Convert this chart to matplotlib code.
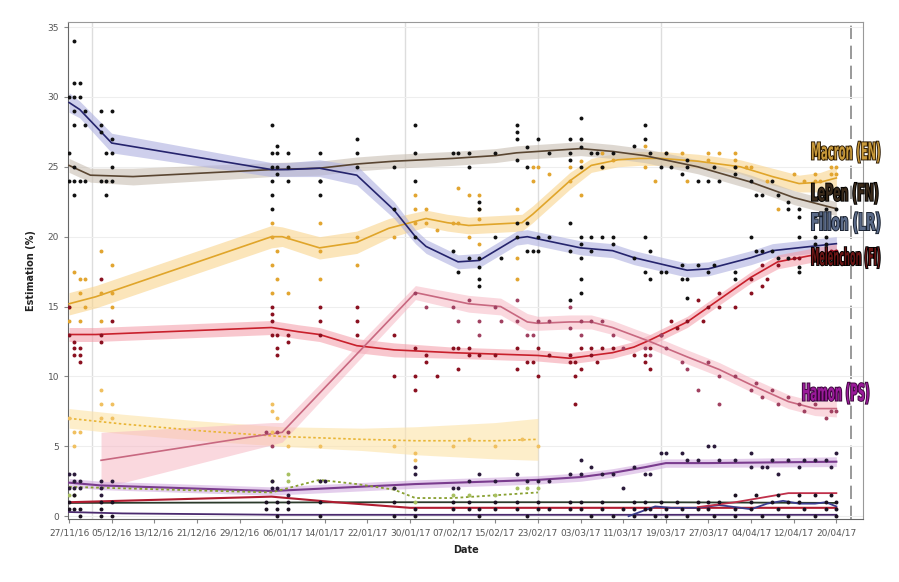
import numpy as np
import matplotlib
matplotlib.use("Agg")
import matplotlib.pyplot as plt
import matplotlib.patheffects as pe
from matplotlib.textpath import TextPath
from matplotlib.patches import PathPatch
from matplotlib.font_manager import FontProperties
from matplotlib.transforms import Affine2D, IdentityTransform

# x values are days since 27/11/16
tick_days = [0, 8, 16, 24, 32, 40, 48, 56, 64, 72, 80, 88, 96, 104, 112, 120, 128, 136, 144]
tick_labels = ["27/11/16", "05/12/16", "13/12/16", "21/12/16", "29/12/16", "06/01/17",
               "14/01/17", "22/01/17", "30/01/17", "07/02/17", "15/02/17", "23/02/17",
               "03/03/17", "11/03/17", "19/03/17", "27/03/17", "04/04/17", "12/04/17",
               "20/04/17"]
event_days = [4.3, 63, 88, 111]
election_day = 146.7

# trend lines (knots) and band half widths
macron_d = [0, 5, 38, 40, 47, 54, 60, 67, 71, 75, 85, 87, 94, 98, 103, 107, 111, 118, 126, 132, 137, 141, 144]
macron_v = [15.2, 15.7, 20.0, 20.0, 19.2, 19.6, 20.6, 21.3, 21.0, 20.8, 21.0, 21.6, 24.0, 25.1, 25.5,
            25.6, 25.6, 25.4, 25.0, 24.3, 23.8, 23.9, 24.2]
macron_w = [0.8, 0.8, 0.8, 0.7, 0.8, 0.8, 0.7, 0.6, 0.6, 0.6, 0.6, 0.6, 0.6, 0.5, 0.5,
            0.5, 0.5, 0.5, 0.5, 0.6, 0.6, 0.7, 0.8]

lepen_d = [0, 4, 12, 38, 47, 54, 61, 72, 80, 84, 96, 102, 108, 118, 128, 136, 144]
lepen_v = [25.1, 24.4, 24.3, 24.8, 24.9, 25.2, 25.4, 25.6, 25.8, 26.0, 26.3, 26.1, 25.8, 25.0, 23.9, 22.8, 22.0]
lepen_w = [0.5, 0.5, 0.6, 0.5, 0.5, 0.5, 0.5, 0.5, 0.5, 0.5, 0.5, 0.5, 0.5, 0.5, 0.5, 0.5, 0.5]

fillon_d = [0, 2, 8, 38, 41, 47, 54, 61, 65, 67, 73, 77, 84, 86, 91, 96, 102, 106, 116, 120, 128, 132, 144]
fillon_v = [29.6, 29.1, 26.7, 24.8, 24.8, 24.9, 24.4, 21.9, 20.0, 19.3, 18.2, 18.3, 19.9, 20.0, 19.6,
            19.2, 19.0, 18.5, 17.6, 17.7, 18.5, 19.0, 19.5]
fillon_w = [0.7, 0.6, 0.7, 0.5, 0.5, 0.6, 0.7, 0.6, 0.5, 0.5, 0.5, 0.5, 0.5, 0.5, 0.5,
            0.5, 0.5, 0.5, 0.5, 0.5, 0.5, 0.5, 0.5]

melen_d = [0, 5, 38, 43, 47, 54, 61, 72, 88, 94, 102, 106, 109, 116, 122, 128, 133, 144]
melen_v = [13.0, 13.0, 13.5, 13.2, 13.0, 12.2, 11.9, 11.7, 11.5, 11.3, 11.7, 12.1, 12.6, 13.9, 15.5, 17.1, 18.2, 19.0]
melen_w = [0.5, 0.5, 0.5, 0.5, 0.5, 0.5, 0.5, 0.4, 0.4, 0.4, 0.4, 0.4, 0.4, 0.4, 0.4, 0.4, 0.5, 0.5]

hamon_d = [6, 38, 40, 65, 75, 81, 86, 88, 94, 98, 102, 109, 116, 122, 128, 135, 140, 144]
hamon_v = [4.0, 5.9, 6.0, 16.0, 15.2, 15.0, 13.9, 13.8, 13.9, 13.9, 13.5, 12.5, 11.4, 10.5, 9.4, 8.2, 7.7, 7.7]
hamon_w = [2.0, 0.8, 0.7, 0.5, 0.6, 0.6, 0.6, 0.5, 0.5, 0.5, 0.5, 0.5, 0.5, 0.5, 0.5, 0.5, 0.5, 0.6]

nda_d = [0, 6, 38, 65, 88, 96, 102, 108, 112, 120, 144]
nda_v = [2.4, 2.2, 1.8, 2.3, 2.6, 2.8, 3.1, 3.5, 3.8, 3.8, 3.9]
nda_w = [0.3, 0.3, 0.3, 0.3, 0.3, 0.3, 0.3, 0.3, 0.3, 0.3, 0.35]

bayrou_d = [0, 10, 25, 40, 55, 65, 80, 88]
bayrou_v = [7.0, 6.6, 6.1, 5.7, 5.5, 5.4, 5.4, 5.5]
bayrou_w = [0.7, 0.7, 0.7, 0.7, 0.8, 1.0, 1.3, 1.5]

jadot_d = [0, 38, 41, 47, 54, 61, 65, 72, 80, 88]
jadot_v = [2.1, 1.7, 2.0, 2.6, 2.3, 1.9, 1.3, 1.3, 1.5, 1.7]

arthaud_d = [0, 38, 50, 64, 100, 144]
arthaud_v = [1.0, 1.4, 1.0, 0.6, 0.6, 0.6]
poutou_d = [0, 60, 110, 144]
poutou_v = [0.95, 1.0, 1.0, 0.95]
cheminade_d = [0, 10, 40, 144]
cheminade_v = [0.3, 0.2, 0.1, 0.1]
asselineau_d = [105, 110, 113, 118, 122, 128, 131, 134, 137, 140, 142, 144]
asselineau_v = [0.0, 0.7, 0.6, 0.6, 0.8, 0.5, 0.9, 1.1, 0.9, 0.9, 1.0, 0.7]
lassalle_d = [118, 125, 135, 144]
lassalle_v = [0.65, 1.0, 1.65, 1.65]

# poll dots
fillon_pts = [(0, 30), (1, 34), (1, 31), (2, 31), (1, 30), (2, 30), (1, 29), (3, 29), (1, 28), (3, 28),
              (6, 29), (8, 29), (6, 28), (6, 27.5), (8, 27), (7, 26), (8, 26), (38, 25), (38, 24),
              (39, 25), (39, 24.5), (41, 25), (47, 24), (54, 25), (61, 22), (65, 24), (65, 20), (72, 19),
              (73, 17.5), (75, 18.5), (77, 22.5), (77, 22), (77, 18.5), (77, 17.8), (77, 17), (77, 16.5),
              (80, 20), (81, 18.5), (84, 20), (84, 21), (86, 19), (86, 21), (87, 19), (88, 20), (88, 19),
              (90, 20), (94, 21), (94, 19), (94, 15.5), (96, 20), (96, 19.5), (96, 18.5), (96, 17),
              (96, 16), (98, 20), (98, 19), (100, 20), (102, 20), (102, 19.5), (106, 18.5), (108, 20),
              (108, 17.5), (109, 19), (109, 17), (111, 17.5), (112, 17.5), (115, 18), (115, 17),
              (116, 17), (116, 15.6), (118, 18), (120, 17.5), (121, 18), (125, 17.5), (125, 17),
              (128, 20), (129, 19), (130, 19), (132, 19), (133, 18.5), (135, 18.5), (137, 20),
              (137, 17.8), (137, 17.5), (140, 20), (140, 19.5), (142, 20), (142, 19.5)]
lepen_pts = [(0, 26), (0, 24), (1, 25), (1, 24), (2, 24), (3, 24), (1, 23), (6, 24), (7, 24), (8, 24),
             (8, 25), (7, 23), (38, 28), (38, 26), (38, 23), (38, 22), (39, 26.5), (39, 26), (41, 26),
             (41, 24), (47, 26), (47, 24), (47, 23), (54, 27), (54, 26), (61, 25), (65, 28), (65, 26),
             (72, 26), (73, 26), (75, 26), (75, 25), (80, 26), (84, 28), (84, 27.5), (84, 27),
             (84, 25.5), (86, 25), (88, 27), (86, 26.4), (90, 26), (94, 27), (94, 26), (94, 25.5),
             (96, 28.5), (96, 27), (96, 26.4), (96, 25), (98, 26), (99, 26), (100, 25), (102, 26),
             (106, 26.5), (108, 27), (108, 28), (109, 26), (111, 25), (112, 26), (113, 25), (115, 24.5),
             (116, 25), (116, 25.5), (118, 24), (120, 24), (121, 25), (122, 24), (125, 25), (125, 24.5),
             (128, 24), (129, 23), (130, 23), (132, 24), (133, 23), (135, 22.5), (135, 22), (137, 22),
             (137, 21.4), (140, 21.5), (142, 22), (144, 22)]
macron_pts = [(1, 17.5), (2, 17), (3, 17), (2, 16), (0, 15), (3, 15), (0, 14), (2, 14), (6, 19), (6, 16),
              (8, 18), (8, 15), (6, 14), (8, 16), (38, 21), (38, 20), (38, 18), (38, 16), (39, 19),
              (39, 17), (41, 20), (41, 16), (47, 21), (47, 19), (47, 17), (54, 20), (54, 18), (61, 20),
              (65, 23), (65, 22), (65, 21), (67, 22), (67, 21), (69, 20.5), (72, 21), (73, 23.5),
              (73, 21), (75, 23), (75, 20), (77, 23), (77, 22), (77, 21.3), (77, 19.5), (84, 22),
              (84, 18.5), (84, 17), (87, 24), (87, 25), (88, 25), (90, 24.5), (94, 25), (96, 25.4),
              (96, 23), (94, 24), (100, 26), (100, 25), (102, 25.5), (108, 26.5), (108, 25), (110, 24),
              (112, 26), (115, 26), (116, 24), (120, 26), (122, 26), (125, 26), (120, 25.5), (125, 25.5),
              (125, 25), (127, 25), (128, 25), (133, 22), (136, 24.5), (140, 24.5), (143, 24.5),
              (144, 24.5), (131, 24), (138, 24), (140, 24), (141, 24), (143, 25), (144, 25)]
melen_pts = [(0, 15), (1, 12.5), (1, 12), (2, 12), (1, 11.5), (2, 11.5), (2, 11), (0, 13), (6, 12.5),
             (6, 13), (6, 17), (8, 14), (38, 15), (38, 14.5), (38, 14), (38, 13), (39, 13), (39, 12),
             (39, 11.5), (41, 13), (41, 12.5), (47, 15), (47, 14), (47, 13), (54, 15), (54, 14),
             (54, 13), (61, 13), (61, 10), (65, 12), (65, 10), (65, 9), (67, 11.5), (67, 11), (69, 10),
             (72, 12), (73, 12), (73, 10.5), (75, 12), (75, 11.5), (77, 11.5), (80, 11.5), (84, 12),
             (84, 10.5), (86, 11), (87, 11), (88, 12), (88, 10), (90, 11.5), (94, 11.5), (94, 11),
             (95, 11), (96, 10.5), (95, 10), (95, 8), (96, 12), (98, 12), (98, 11.5), (99, 11),
             (100, 12), (102, 12), (106, 11.5), (108, 11.5), (108, 11), (109, 10.5), (109, 12),
             (111, 13), (113, 14), (114, 13.5), (116, 14), (118, 15.5), (119, 14), (120, 15), (122, 16),
             (122, 15), (125, 15), (128, 16), (128, 17), (130, 16.5), (130, 18), (131, 17), (133, 18),
             (136, 18.5), (137, 18.5), (142, 18.5), (143, 19), (144, 19)]
hamon_pts = [(37, 6), (38, 5), (39, 6), (41, 6), (65, 16), (67, 15), (72, 15), (73, 14), (75, 15.5),
             (77, 13), (77, 14), (80, 15), (81, 14), (84, 14), (84, 15.5), (86, 13), (87, 13), (88, 14),
             (90, 14), (94, 15), (94, 13.5), (96, 14), (96, 13), (98, 14), (100, 14), (102, 13),
             (104, 12), (108, 12), (109, 11.5), (111, 13), (112, 12), (115, 11), (116, 10.5), (118, 9),
             (120, 11), (122, 10), (122, 8), (125, 10), (128, 9), (129, 9.5), (130, 8.5), (132, 9),
             (133, 8), (135, 8.5), (137, 8), (138, 7.5), (140, 8), (142, 7), (143, 7.5), (144, 7.5)]
nda_pts = [(0, 3), (1, 3), (0, 2), (1, 2.5), (2, 2.5), (1, 2), (2, 2), (6, 2.5), (8, 2.5), (6, 2),
           (6, 1.5), (38, 2.5), (38, 2), (39, 2), (41, 1.5), (47, 2.5), (48, 2.5), (61, 2), (65, 3.5),
           (65, 3), (72, 2), (73, 2), (75, 2.5), (77, 3), (80, 2.5), (84, 3), (86, 2.5), (88, 2.5),
           (90, 2.5), (94, 3), (96, 4), (96, 3), (98, 3.5), (100, 3), (102, 3), (104, 2), (106, 3.5),
           (108, 3), (109, 3), (111, 4.5), (112, 4.5), (115, 4.5), (116, 4), (118, 4), (120, 5),
           (121, 5), (122, 4), (125, 4), (128, 4.5), (128, 3.5), (130, 3.5), (131, 3.5), (132, 4),
           (133, 3), (135, 4), (137, 3.5), (138, 4), (140, 4), (142, 4), (143, 3.5), (144, 4.5)]
small_pts = [(0, 1), (0, 0.5), (1, 0.5), (1, 1.5), (2, 0.5), (2, 0), (6, 1), (6, 0.5), (6, 0), (8, 0),
             (8, 1), (37, 1), (37, 0.5), (39, 1), (39, 0.5), (39, 0), (41, 1), (41, 0.5), (47, 1),
             (47, 0), (61, 1), (61, 0), (65, 0.5), (65, 0), (72, 1), (72, 0.5), (75, 0.5), (75, 1),
             (77, 0.5), (77, 0), (80, 1), (80, 0.5), (84, 0.5), (84, 1), (86, 0), (88, 1), (88, 0.5),
             (90, 0.5), (94, 1), (94, 0.5), (96, 1), (96, 0.5), (98, 0), (100, 1), (100, 0.5), (102, 0),
             (104, 0.5), (106, 1), (106, 0.5), (106, 0), (108, 1), (108, 0.5), (109, 0.5), (110, 0),
             (111, 1), (112, 0.5), (112, 0), (114, 1), (115, 0.5), (116, 0), (118, 1), (118, 0.5),
             (120, 1), (120, 0.5), (121, 0), (122, 1), (125, 1.5), (125, 0.5), (125, 0), (128, 1),
             (128, 0.5), (129, 1.5), (130, 0), (132, 1), (133, 1.5), (133, 0.5), (135, 1), (135, 0),
             (137, 1.5), (137, 1), (138, 0.5), (140, 1.5), (140, 0), (142, 1), (142, 0.5), (143, 1.5),
             (144, 1), (144, 0.5), (144, 0)]
bayrou_pts = [(0, 7), (1, 6), (2, 6), (1, 5), (6, 9), (6, 8), (8, 8), (6, 7), (8, 7), (38, 8),
              (38, 7.5), (38, 6), (39, 7), (41, 6), (41, 5), (47, 5), (61, 5), (65, 4.5), (65, 4),
              (72, 5), (75, 5.5), (80, 5), (85, 5.5), (88, 5)]
jadot_pts = [(0, 1.5), (1, 1.5), (38, 2.5), (41, 3), (41, 2.5), (47, 2.5), (61, 2), (65, 1), (72, 1.5),
             (75, 1.5), (80, 1.5), (84, 2), (86, 2), (88, 2)]

labels = ["Macron (EN)", "LePen (FN)", "Fillon (LR)", "Melenchon (FI)", "Hamon (PS)"]
label_x = [139.4, 139.4, 139.4, 139.4, 137.7]
label_y = [26.05, 23.1, 21.0, 18.5, 8.8]

fig = plt.figure(figsize=(8.99, 5.82), dpi=100)
ax = fig.add_axes([68 / 899, 1 - 519 / 582, 795 / 899, 497 / 582])


def band(d, v, w, line_c, band_c, alpha=0.5, ls="-", lw=1.2):
    d = np.array(d); v = np.array(v); w = np.array(w)
    ax.fill_between(d, v - w, v + w, color=band_c, alpha=alpha, lw=0, zorder=1)
    ax.plot(d, v, color=line_c, lw=lw, ls=ls, zorder=3)


def dots(pts, c, s=8):
    p = np.array(pts, dtype=float)
    ax.scatter(p[:, 0], p[:, 1], s=s, color=c, lw=0, zorder=4)


for d in event_days:
    ax.axvline(d, color="#dddddd", lw=1, zorder=0)
ax.axvline(election_day, color="#888888", lw=1.2, ls=(0, (8, 4)), zorder=0)

band(bayrou_d, bayrou_v, bayrou_w, "#e9b535", "#fde3a8", alpha=0.6, ls=(0, (1.5, 1.5)))
band(macron_d, macron_v, macron_w, "#e0a52a", "#f9d48c", alpha=0.6)
band(lepen_d, lepen_v, lepen_w, "#5a4632", "#c9bfb3", alpha=0.6)
band(fillon_d, fillon_v, fillon_w, "#25246d", "#aeb0e0", alpha=0.6)
band(melen_d, melen_v, melen_w, "#c8202c", "#f49aa6", alpha=0.55)
band(hamon_d, hamon_v, hamon_w, "#c86880", "#f6b8c4", alpha=0.55)
band(nda_d, nda_v, nda_w, "#7a3c8e", "#d3aee0", alpha=0.6, lw=1.5)
ax.plot(jadot_d, jadot_v, color="#88a030", lw=1.3, ls=(0, (1.5, 1.5)), zorder=3)
ax.plot(poutou_d, poutou_v, color="#2b3a2b", lw=1.3, zorder=3)
ax.plot(arthaud_d, arthaud_v, color="#b01c30", lw=1.5, zorder=3)
ax.plot(cheminade_d, cheminade_v, color="#4a2a6e", lw=1.3, zorder=3)
ax.plot(asselineau_d, asselineau_v, color="#3a3c8c", lw=1.3, zorder=3)
ax.plot(lassalle_d, lassalle_v, color="#c0304a", lw=1.3, zorder=3)

dots(bayrou_pts, "#f0c060")
dots(jadot_pts, "#a8c060")
dots(macron_pts, "#e2a530")
dots(fillon_pts, "#111111")
dots(lepen_pts, "#111111")
dots(melen_pts, "#8a1020")
dots(hamon_pts, "#a04060")
dots(nda_pts, "#2a1a3a")
dots(small_pts, "#1a1020")

ax.set_xlim(-0.2, 149)
ax.set_ylim(-0.2, 35.36)
ax.set_xticks(tick_days)
ax.set_xticklabels(tick_labels, fontsize=6.5, color="#555555")
ax.set_yticks([0, 5, 10, 15, 20, 25, 30, 35])
ax.tick_params(axis="y", labelsize=6.5, labelcolor="#555555", color="#888888", length=3)
ax.tick_params(axis="x", color="#888888", length=3)
ax.grid(axis="y", color="#eeeeee", lw=0.8, zorder=0)
ax.set_axisbelow(True)
for s in ax.spines.values():
    s.set_color("#999999")
ax.spines["left"].set_color("#666666")
ax.spines["bottom"].set_color("#666666")
ax.set_xlabel("Date", fontsize=7, fontweight="bold", color="#222222", labelpad=6)
ax.set_ylabel("Estimation (%)", fontsize=7, fontweight="bold", color="#222222", labelpad=8)

# condensed bold labels: text outlines squeezed horizontally
fp = FontProperties(family="DejaVu Sans", weight="bold")
lab_style = [("#c8993a", "#2a1800"), ("#3a2a1a", "#000000"), ("#5a6a88", "#18202e"),
             ("#6a1414", "#000000"), ("#9a1a9a", "#3a063a")]
lab_w = [68, 66, 68, 68, 66]
for t, x0, y, w, (fc, ec) in zip(labels, label_x, label_y, lab_w, lab_style):
    tp = TextPath((0, 0), t, size=10, prop=fp)
    ext = tp.get_extents()
    px, py = ax.transData.transform((x0, y))
    tr = (Affine2D().translate(-ext.x0, -(ext.y0 + ext.height / 2))
          .scale(w / ext.width, 21 / ext.height).translate(px, py))
    patch = PathPatch(tr.transform_path(tp), facecolor=fc, edgecolor="none",
                      transform=IdentityTransform(), zorder=6,
                      path_effects=[pe.withStroke(linewidth=1.3, foreground=ec)])
    fig.add_artist(patch)

fig.savefig("out.png", dpi=100)
